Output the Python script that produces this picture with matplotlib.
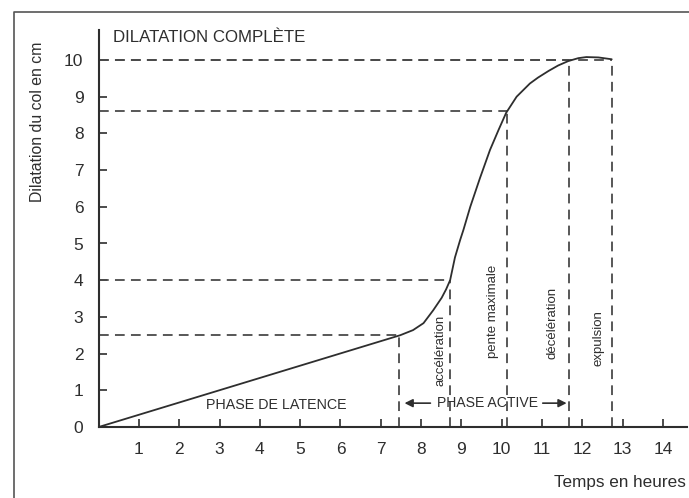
import matplotlib
matplotlib.use("Agg")
import matplotlib.pyplot as plt
from matplotlib import font_manager
from matplotlib.lines import Line2D

names = {f.name for f in font_manager.fontManager.ttflist}
FONT = 'Liberation Sans Narrow' if 'Liberation Sans Narrow' in names else 'Liberation Sans'
plt.rcParams['font.family'] = [FONT, 'DejaVu Sans']
plt.rcParams['lines.scale_dashes'] = False

# Data
hours = [0, 7.48, 7.8, 8.06, 8.3, 8.51, 8.62, 8.72, 8.84, 8.97, 9.05, 9.22, 9.46,
         9.71, 9.92, 10.11, 10.37, 10.7, 10.9, 11.16, 11.4, 11.65, 11.9, 12.1,
         12.4, 12.73]
dilation = [0, 2.5, 2.64, 2.83, 3.18, 3.52, 3.75, 4.0, 4.62, 5.1, 5.37, 6.0, 6.78,
            7.55, 8.09, 8.56, 9.0, 9.36, 9.52, 9.70, 9.85, 9.97, 10.05, 10.08,
            10.07, 10.02]

# Reference marks (hour, dilation)
mark_hours = [7.46, 8.72, 10.13, 11.68, 12.73]
mark_dil = [2.5, 4.0, 8.6, 10.0, 10.0]

xticks = list(range(1, 15))
yticks = list(range(0, 11))

phase_labels = ['accélération', 'pente maximale', 'décélération', 'expulsion']
phase_x = [8.47, 9.79, 11.25, 12.4]
phase_y = [2.1, 3.16, 2.83, 2.42]

W, H = 689, 498
fig = plt.figure(figsize=(W / 100, H / 100), dpi=100)
fig.patch.set_facecolor('white')

px_per_h = 40.3
px_per_cm = 36.7
x0, y0 = 98.7, 427
xmax, ymax = 14.6, 10.82
ax = fig.add_axes([x0 / W, (H - y0) / H, xmax * px_per_h / W, ymax * px_per_cm / H])
ax.set_xlim(0, xmax)
ax.set_ylim(0, ymax)

col = '#2e2e2e'
dcol = '#4a4a4a'
for s in ['top', 'right']:
    ax.spines[s].set_visible(False)
for s in ['left', 'bottom']:
    ax.spines[s].set_linewidth(1.5)
    ax.spines[s].set_color(col)

ax.set_xticks(xticks)
ax.set_yticks(yticks)
ax.tick_params(direction='in', length=6, width=1.2, color=col, labelsize=12.5,
               labelcolor=col, pad=11)
ax.tick_params(axis='y', pad=11)

# dashed guides
dash = dict(color=dcol, lw=1.3, dashes=(7, 4.5))
for hx, dy in zip(mark_hours, mark_dil):
    ax.plot([0, hx], [dy, dy], **dash)
    ax.plot([hx, hx], [0, dy], **dash)

# curve
ax.plot(hours, dilation, color=col, lw=1.3, solid_capstyle='round',
        solid_joinstyle='round')

ax.text(0.35, 10.6, 'DILATATION COMPLÈTE', fontsize=12.2, color=col, ha='left', va='center')
ax.text(4.4, 0.6, 'PHASE DE LATENCE', fontsize=10.3, color=col, ha='center', va='center')
ax.text(9.64, 0.65, 'PHASE ACTIVE', fontsize=10.1, color=col, ha='center', va='center')
ax.annotate('', xy=(7.52, 0.65), xytext=(8.3, 0.65),
            arrowprops=dict(arrowstyle='-|>', color=col, lw=1.2, mutation_scale=12))
ax.annotate('', xy=(11.68, 0.65), xytext=(10.95, 0.65),
            arrowprops=dict(arrowstyle='-|>', color=col, lw=1.2, mutation_scale=12))
for lab, lx, ly in zip(phase_labels, phase_x, phase_y):
    ax.text(lx, ly, lab, rotation=90, fontsize=9.5, color=col, ha='center', va='center')

fig.text(38 / W, 1 - 122 / H, 'Dilatation du col en cm', rotation=90, fontsize=11.4,
         color=col, ha='center', va='center')
fig.text(686 / W, 1 - 482 / H, 'Temps en heures', fontsize=12.3, color=col,
         ha='right', va='center')

# outer frame of the scanned figure
fig.add_artist(Line2D([14 / W, 14 / W, 1.0], [0.0, 1 - 12 / H, 1 - 12 / H],
                      transform=fig.transFigure, color='#555555', lw=1.2))

fig.savefig('out.png', dpi=100)
